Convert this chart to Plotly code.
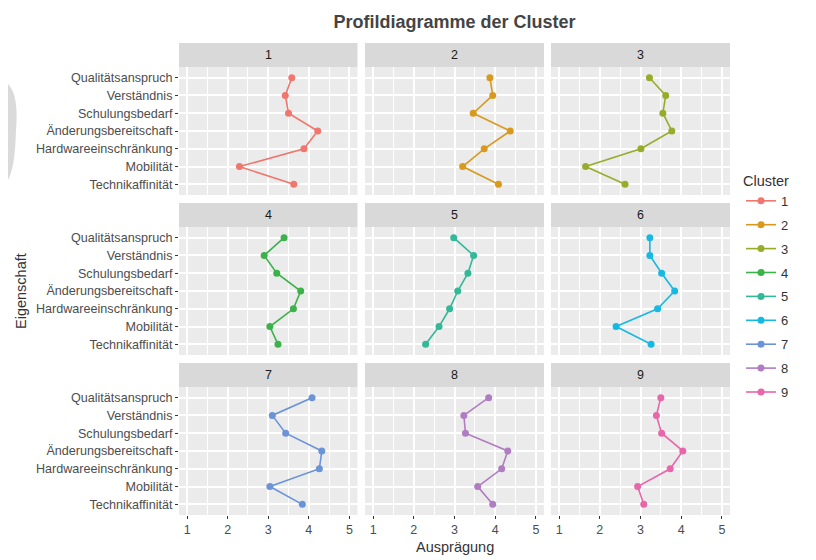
import plotly.graph_objects as go

# The page body adds an 8px margin; the figure is sized and positioned to compensate.
OFF = 8
W, H = 816 - OFF, 560 - OFF

eigenschaften = ["Qualitätsanspruch", "Verständnis", "Schulungsbedarf",
                 "Änderungsbereitschaft", "Hardwareeinschränkung", "Mobilität",
                 "Technikaffinität"]
clusters = ["1", "2", "3", "4", "5", "6", "7", "8", "9"]

c1 = [3.58, 3.42, 3.50, 4.22, 3.88, 2.29, 3.63]
c2 = [3.87, 3.94, 3.46, 4.37, 3.73, 3.20, 4.08]
c3 = [3.22, 3.62, 3.55, 3.77, 3.01, 1.65, 2.62]
c4 = [3.39, 2.90, 3.21, 3.80, 3.62, 3.04, 3.24]
c5 = [2.98, 3.47, 3.33, 3.08, 2.88, 2.62, 2.29]
c6 = [3.23, 3.23, 3.52, 3.84, 3.42, 2.40, 3.26]
c7 = [4.08, 3.10, 3.43, 4.32, 4.26, 3.04, 3.84]
c8 = [3.84, 3.23, 3.27, 4.31, 4.16, 3.57, 3.94]
c9 = [3.50, 3.39, 3.52, 4.04, 3.73, 2.93, 3.08]
werte = [c1, c2, c3, c4, c5, c6, c7, c8, c9]

farben = ["#F0776E", "#D89A1E", "#96AC2A", "#3BB24A", "#33B898",
          "#17B8E2", "#6A93D8", "#B07CC2", "#E866AA"]

x_ticks = [1, 2, 3, 4, 5]

# panel geometry (reference pixels)
col_x = [(179, 357.5), (365, 544), (551, 730)]
row_y = [(67, 195), (227, 355), (387, 515)]
strip_h = 24

fig = go.Figure()
layout = {}
shapes = []
annotations = []

def px_x(v):
    return (v - OFF) / W

def px_y(v):
    return 1 - (v - OFF) / H

for i, name in enumerate(clusters):
    r, c = divmod(i, 3)
    k = i + 1
    xa = "x" if k == 1 else f"x{k}"
    ya = "y" if k == 1 else f"y{k}"
    fig.add_trace(go.Scatter(
        x=werte[i], y=eigenschaften, mode="lines+markers", name=name,
        legendgroup=name,
        line=dict(color=farben[i], width=1.6),
        marker=dict(color=farben[i], size=7),
        xaxis=xa, yaxis=ya, showlegend=True))
    x0, x1 = col_x[c]
    y0, y1 = row_y[r]
    layout[f"xaxis{'' if k == 1 else k}"] = dict(
        domain=[px_x(x0), px_x(x1)], anchor=ya, range=[0.8, 5.2],
        tickvals=x_ticks, showticklabels=(r == 2), ticks="outside" if r == 2 else "",
        ticklen=3, tickcolor="#333333", tickwidth=1,
        tickfont=dict(size=12.5, color="#4D4D4D"),
        showgrid=True, gridcolor="white", gridwidth=1.6, zeroline=False,
        showline=False,
        minor=dict(tickvals=[0.5, 1.5, 2.5, 3.5, 4.5], showgrid=True,
                   gridcolor="white", gridwidth=0.8, ticks=""),
    )
    layout[f"yaxis{'' if k == 1 else k}"] = dict(
        domain=[px_y(y1), px_y(y0)], anchor=xa, type="category",
        categoryorder="array", categoryarray=eigenschaften[::-1],
        range=[-0.6, 6.6], showticklabels=(c == 0),
        ticks="outside" if c == 0 else "", ticklen=3, tickcolor="#333333",
        tickwidth=1, tickfont=dict(size=12.6, color="#4D4D4D"),
        showgrid=True, gridcolor="white", gridwidth=1.6, zeroline=False,
        showline=False,
    )
    shapes.append(dict(type="rect", xref="paper", yref="paper",
                       x0=px_x(x0), x1=px_x(x1), y0=px_y(y1), y1=px_y(y0),
                       fillcolor="#EBEBEB", line=dict(width=0), layer="below"))
    shapes.append(dict(type="rect", xref="paper", yref="paper",
                       x0=px_x(x0), x1=px_x(x1), y0=px_y(y0), y1=px_y(y0 - strip_h),
                       fillcolor="#D9D9D9", line=dict(width=0), layer="below"))
    annotations.append(dict(text=name, xref="paper", yref="paper",
                            x=px_x((x0 + x1) / 2), y=px_y(y0 - strip_h / 2),
                            showarrow=False, xanchor="center", yanchor="middle",
                            font=dict(size=12.5, color="#1A1A1A")))

# faint gray blob at the left edge (as in the reference image)
shapes.append(dict(type="path", xref="paper", yref="paper",
                   path=(f"M 0 {px_y(84)} Q {px_x(19)} {px_y(95)} {px_x(16)} {px_y(130)} "
                         f"Q {px_x(15)} {px_y(168)} 0 {px_y(180)} Z"),
                   fillcolor="#D4D4D4", line=dict(width=0), layer="below", opacity=0.85))

annotations.append(dict(text="Eigenschaft", xref="paper", yref="paper",
                        x=px_x(21), y=px_y(291), textangle=-90, showarrow=False,
                        xanchor="center", yanchor="middle",
                        font=dict(size=14.5, color="#333333")))
annotations.append(dict(text="Ausprägung", xref="paper", yref="paper",
                        x=px_x(454.5), y=px_y(547), showarrow=False,
                        xanchor="center", yanchor="middle",
                        font=dict(size=14.5, color="#333333")))

fig.update_layout(
    width=W, height=H,
    margin=dict(l=0, r=0, t=0, b=0),
    paper_bgcolor="white", plot_bgcolor="rgba(0,0,0,0)",
    font=dict(family="Liberation Sans, Arial, sans-serif", color="#333333"),
    title=dict(text="<b>Profildiagramme der Cluster</b>", x=px_x(454.5), xanchor="center",
               y=px_y(22), yanchor="middle",
               font=dict(size=18, color="#444444")),
    shapes=shapes, annotations=annotations,
    legend=dict(x=px_x(741), y=px_y(167), xanchor="left", yanchor="top",
                title=dict(text="Cluster", font=dict(size=14.5, color="#333333")),
                font=dict(size=13, color="#333333"),
                tracegroupgap=4, itemwidth=30, bgcolor="rgba(0,0,0,0)"),
    **layout,
)

fig.write_html("out.html")
